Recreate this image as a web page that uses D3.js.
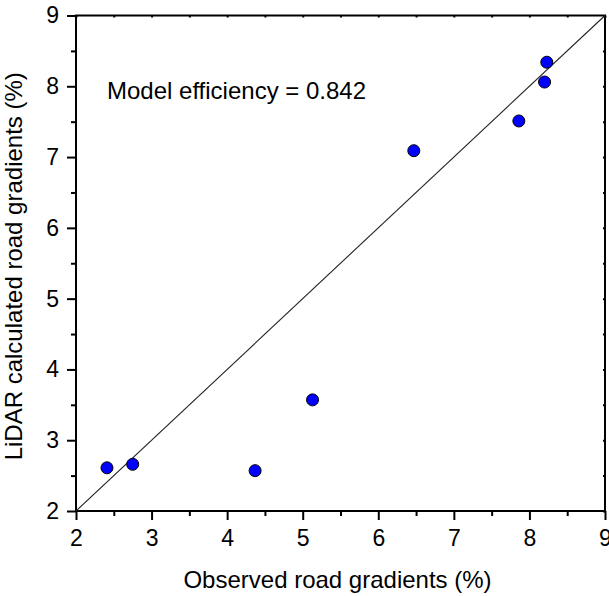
<!DOCTYPE html>
<html>
<head>
<meta charset="utf-8">
<script src="https://cdn.jsdelivr.net/npm/d3@7"></script>
<style>
  body { margin: 0; background: #fff; }
  svg { display: block; font-family: "Liberation Sans", Arial, sans-serif; }
</style>
</head>
<body>
<svg id="chart" width="609" height="596"></svg>
<script>
// observed vs LiDAR road gradients (%)
const observed = [2.41, 2.75, 4.37, 5.13, 6.47, 7.86, 8.20, 8.23];
const lidar    = [2.61, 2.66, 2.57, 3.57, 7.09, 7.51, 8.06, 8.34];
const majorTicks = [2, 3, 4, 5, 6, 7, 8, 9];
const minorTicks = [2.5, 3.5, 4.5, 5.5, 6.5, 7.5, 8.5];
const efficiency = 0.842;

const svg = d3.select('#chart');
const plotL = 76, plotR = 605, plotT = 15.5, plotB = 511;

const x = d3.scaleLinear().domain([2, 9]).range([plotL, plotR]);
const y = d3.scaleLinear().domain([2, 9]).range([plotB, plotT]);

// outer axes with major + minor ticks
const xAxis = d3.axisBottom(x).tickValues(majorTicks).tickSize(9).tickPadding(10).tickFormat(d3.format('d'));
const yAxis = d3.axisLeft(y).tickValues(majorTicks).tickSize(9).tickPadding(8).tickFormat(d3.format('d'));

svg.append('g').attr('transform', `translate(0,${plotB})`).call(xAxis);
svg.append('g').attr('transform', `translate(${plotL},0)`).call(yAxis);

svg.append('g').attr('transform', `translate(0,${plotB})`)
  .call(d3.axisBottom(x).tickValues(minorTicks).tickSize(5).tickFormat(''));
svg.append('g').attr('transform', `translate(${plotL},0)`)
  .call(d3.axisLeft(y).tickValues(minorTicks).tickSize(5).tickFormat(''));

// small inner ticks on the top and right frame
svg.append('g').attr('transform', `translate(0,${plotT})`)
  .call(d3.axisBottom(x).tickValues(majorTicks.concat(minorTicks)).tickSize(2).tickFormat(''));
svg.append('g').attr('transform', `translate(${plotR},0)`)
  .call(d3.axisLeft(y).tickValues(majorTicks.concat(minorTicks)).tickSize(2).tickFormat(''));

svg.selectAll('.domain').remove();
svg.selectAll('.tick line').attr('stroke', '#000').attr('stroke-width', 2);
svg.selectAll('.tick text').attr('font-size', 23).attr('fill', '#000')
  .attr('font-family', '"Liberation Sans", Arial, sans-serif');

// frame
svg.append('rect')
  .attr('x', plotL).attr('y', plotT)
  .attr('width', plotR - plotL).attr('height', plotB - plotT)
  .attr('fill', 'none').attr('stroke', '#000').attr('stroke-width', 2);

// 1:1 line
svg.append('line')
  .attr('x1', x(2)).attr('y1', y(2))
  .attr('x2', x(9)).attr('y2', y(9))
  .attr('stroke', '#222').attr('stroke-width', 1.1);

// points
svg.append('g').selectAll('circle')
  .data(observed.map((d, i) => [d, lidar[i]]))
  .join('circle')
  .attr('cx', d => x(d[0]))
  .attr('cy', d => y(d[1]))
  .attr('r', 6)
  .attr('fill', '#0000ff')
  .attr('stroke', '#000')
  .attr('stroke-width', 1);

// annotation
svg.append('text')
  .attr('x', 107).attr('y', 99)
  .attr('font-size', 24)
  .text('Model efficiency = ' + efficiency.toFixed(3));

// axis titles
svg.append('text')
  .attr('x', (plotL + plotR) / 2 - 3).attr('y', 588)
  .attr('text-anchor', 'middle')
  .attr('font-size', 24)
  .text('Observed road gradients (%)');

svg.append('text')
  .attr('transform', `translate(22,${(plotT + plotB) / 2 + 3}) rotate(-90)`)
  .attr('text-anchor', 'middle')
  .attr('font-size', 24)
  .text('LiDAR calculated road gradients (%)');
</script>
</body>
</html>
